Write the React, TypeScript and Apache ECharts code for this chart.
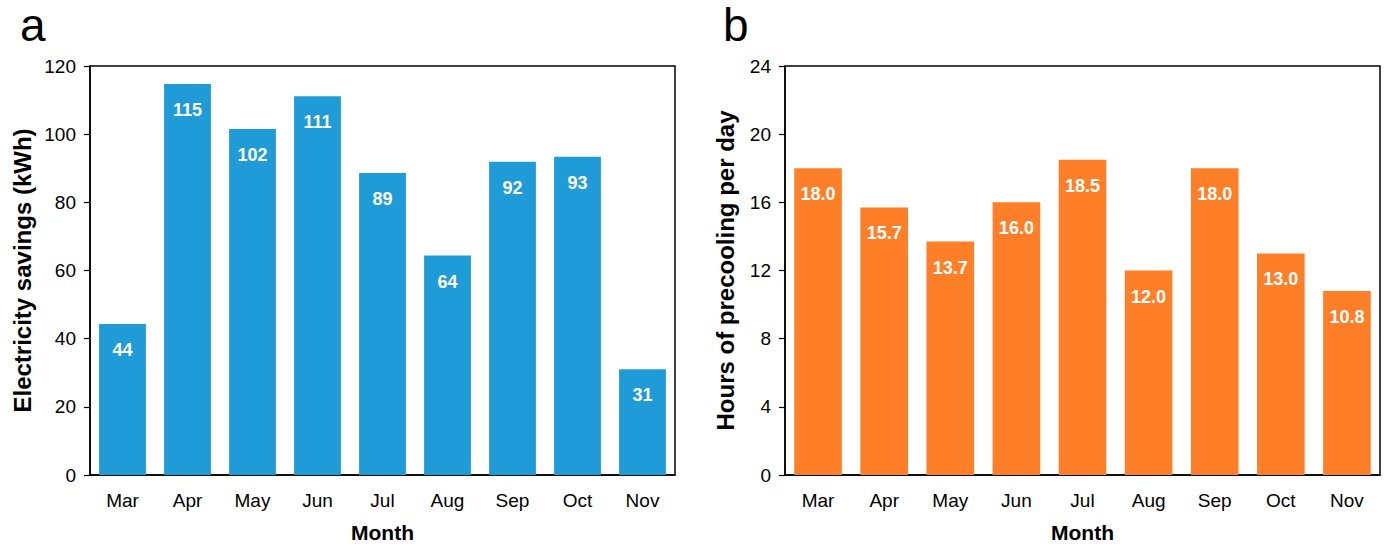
import React, { useEffect, useRef } from "react";
import * as echarts from "echarts";

const months = ["Mar", "Apr", "May", "Jun", "Jul", "Aug", "Sep", "Oct", "Nov"];
const savings = [44.3, 114.7, 101.5, 111.1, 88.6, 64.4, 91.9, 93.4, 31.0];
const precoolHours = [18.0, 15.7, 13.7, 16.0, 18.5, 12.0, 18.0, 13.0, 10.8];
const savingsTicks = { min: 0, max: 120, interval: 20 };
const hoursTicks = { min: 0, max: 24, interval: 4 };

const FONT = "Liberation Sans, Arial, sans-serif";

export default function App() {
  const ref = useRef<HTMLDivElement>(null);
  useEffect(() => {
    if (!ref.current) return;
    const chart = echarts.init(ref.current, null, { renderer: "svg" });
    const yAxisBase = {
      type: "value",
      nameLocation: "middle",
      nameTextStyle: { fontFamily: FONT, fontSize: 24, fontWeight: "bold", color: "#000" },
      axisLine: { show: true, lineStyle: { color: "#000", width: 1.5 } },
      axisTick: { show: true, length: 6, lineStyle: { color: "#000", width: 1.2 } },
      axisLabel: { fontFamily: FONT, fontSize: 19, color: "#000", margin: 14 },
      splitLine: { show: false },
    };
    const xAxisBase = {
      type: "category",
      data: months,
      name: "Month",
      nameLocation: "middle",
      nameGap: 47,
      nameTextStyle: { fontFamily: FONT, fontSize: 21, fontWeight: "bold", color: "#000" },
      axisLine: { show: true, lineStyle: { color: "#000", width: 1.5 } },
      axisTick: { show: false },
      axisLabel: { fontFamily: FONT, fontSize: 19, color: "#000", margin: 16 },
    };
    const labelBase = {
      show: true,
      position: "insideTop",
      distance: 17,
      color: "#fff",
      fontFamily: FONT,
      fontSize: 18,
      fontWeight: "bold",
    };
    chart.setOption({
      animation: false,
      backgroundColor: "#fff",
      grid: [
        { left: 90, top: 66, width: 585, height: 409, show: true, borderColor: "#000", borderWidth: 1.5, outerBoundsMode: "none", containLabel: false },
        { left: 785, top: 66, width: 595, height: 409, show: true, borderColor: "#000", borderWidth: 1.5, outerBoundsMode: "none", containLabel: false },
      ],
      xAxis: [
        { ...xAxisBase, gridIndex: 0 },
        { ...xAxisBase, gridIndex: 1 },
      ],
      yAxis: [
        { ...yAxisBase, gridIndex: 0, ...savingsTicks, name: "Electricity savings (kWh)", nameGap: 56 },
        { ...yAxisBase, gridIndex: 1, ...hoursTicks, name: "Hours of precooling per day", nameGap: 48 },
      ],
      series: [
        {
          type: "bar",
          xAxisIndex: 0,
          yAxisIndex: 0,
          data: savings,
          barWidth: "72%",
          itemStyle: { color: "#1f9cd8" },
          label: { ...labelBase, formatter: (p: any) => Math.round(p.value).toString() },
        },
        {
          type: "bar",
          xAxisIndex: 1,
          yAxisIndex: 1,
          data: precoolHours,
          barWidth: "72%",
          itemStyle: { color: "#fe7f27" },
          label: { ...labelBase, formatter: (p: any) => Number(p.value).toFixed(1) },
        },
      ],
      graphic: [
        { type: "text", left: 20, top: 2, style: { text: "a", fontFamily: FONT, fontSize: 46, fill: "#000" } },
        { type: "text", left: 723, top: 2, style: { text: "b", fontFamily: FONT, fontSize: 46, fill: "#000" } },
      ],
    });
    return () => chart.dispose();
  }, []);
  return (
    <div
      ref={ref}
      style={{ position: "absolute", left: 0, top: 0, width: 1386, height: 544 }}
    />
  );
}
